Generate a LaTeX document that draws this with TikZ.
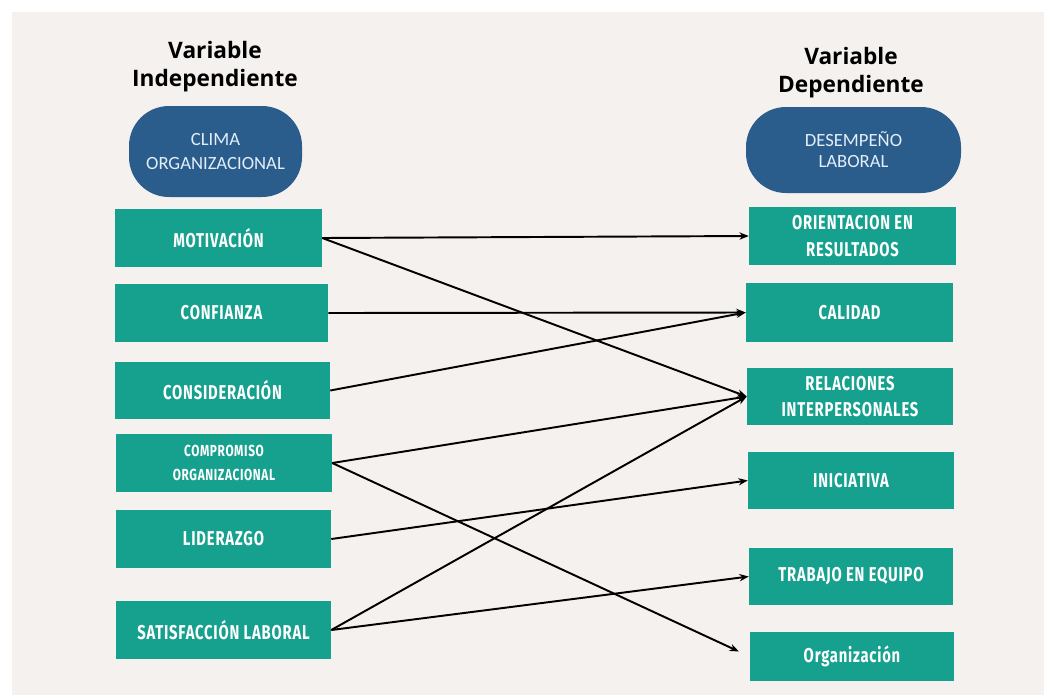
\documentclass[tikz,border=0pt]{standalone}
\usepackage{fontspec}
\usetikzlibrary{arrows.meta}
\newfontfamily\boxfont{Fira Sans}[FakeStretch=0.74,LetterSpace=4]
\newfontfamily\titlefont{Open Sans}
\newfontfamily\ovalfont{Carlito}
\definecolor{bgpanel}{HTML}{F4F1EE}
\definecolor{tealbox}{HTML}{16A08E}
\definecolor{ovalblue}{HTML}{2A5D8C}
\definecolor{ovaltext}{HTML}{E3EEF8}
\begin{document}
\begin{tikzpicture}[x=0.75pt,y=-0.75pt,
  varbox/.style={fill=tealbox, inner sep=0pt, text=white, align=center,
    font=\boxfont\bfseries\fontsize{15}{20}\selectfont},
  smallbox/.style={varbox, font=\boxfont\bfseries\fontsize{12}{18}\selectfont},
  oval/.style={fill=ovalblue, rounded corners=30pt, inner sep=0pt, text=ovaltext,
    align=center},
  title/.style={font=\titlefont\bfseries\fontsize{17}{21}\selectfont, align=center, inner sep=0pt},
  link/.style={line width=1.45pt, -{Stealth[length=7pt,width=5.5pt]}}]
\useasboundingbox (0,0) rectangle (1044,697);
\fill[white] (0,0) rectangle (1044,697);
\fill[bgpanel] (12,12) rectangle (1044,695);

% titles
\node[title] (tl) at (215,66.5) {Variable\\Independiente};
\node[title] (tr) at (851,72.5) {Variable\\Dependiente};

% ovals
\node[oval, minimum width=129.75pt, minimum height=68.25pt,
  font=\ovalfont\fontsize{14}{18}\selectfont] (clima) at (215.5,151.5) {CLIMA\\ORGANIZACIONAL};
\node[oval, minimum width=161.25pt, minimum height=64.5pt,
  font=\ovalfont\fontsize{14}{15.75}\selectfont] (desem) at (853.5,150) {DESEMPEÑO\\LABORAL};

% left boxes
\node[varbox, minimum width=155.25pt, minimum height=43.5pt] (mot) at (218.5,238) {MOTIVACIÓN};
\node[varbox, minimum width=159.75pt, minimum height=43.5pt] (con) at (221.5,313) {CONFIANZA};
\node[varbox, minimum width=161.25pt, minimum height=42.75pt] (cons) at (222.5,390.5) {CONSIDERACIÓN};
\node[smallbox, minimum width=162pt, minimum height=43.5pt] (comp) at (224,463) {COMPROMISO\\ORGANIZACIONAL};
\node[varbox, minimum width=161.25pt, minimum height=43.5pt] (lid) at (223.5,539) {LIDERAZGO};
\node[varbox, minimum width=161.25pt, minimum height=43.5pt] (sat) at (223.5,630) {SATISFACCIÓN LABORAL};

% right boxes
\node[varbox, minimum width=155.25pt, minimum height=43.5pt] (ori) at (852.5,236) {ORIENTACION EN\\RESULTADOS};
\node[varbox, minimum width=155.25pt, minimum height=44.25pt] (cal) at (849.5,312.5) {CALIDAD};
\node[varbox, minimum width=154.5pt, minimum height=42.75pt] (rel) at (850,396.5) {RELACIONES\\INTERPERSONALES};
\node[varbox, minimum width=154.5pt, minimum height=42.75pt] (ini) at (851,480.5) {INICIATIVA};
\node[varbox, minimum width=153pt, minimum height=42.75pt] (tra) at (851,576.5) {TRABAJO EN EQUIPO};
\node[varbox, minimum width=153pt, minimum height=36.75pt] (org) at (852,656.5) {Organización};

% connectors
\draw[link] (mot.east) -- (ori.west);
\draw[link] (mot.east) -- (rel.west);
\draw[link] (con.east) -- (cal.west);
\draw[link] (cons.east) -- (cal.west);
\draw[link] (comp.east) -- (rel.west);
\draw[link, shorten >=9pt] (comp.east) -- (org.west);
\draw[link] (lid.east) -- (ini.west);
\draw[link] (sat.east) -- (rel.west);
\draw[link] (sat.east) -- (tra.west);
\end{tikzpicture}
\end{document}
